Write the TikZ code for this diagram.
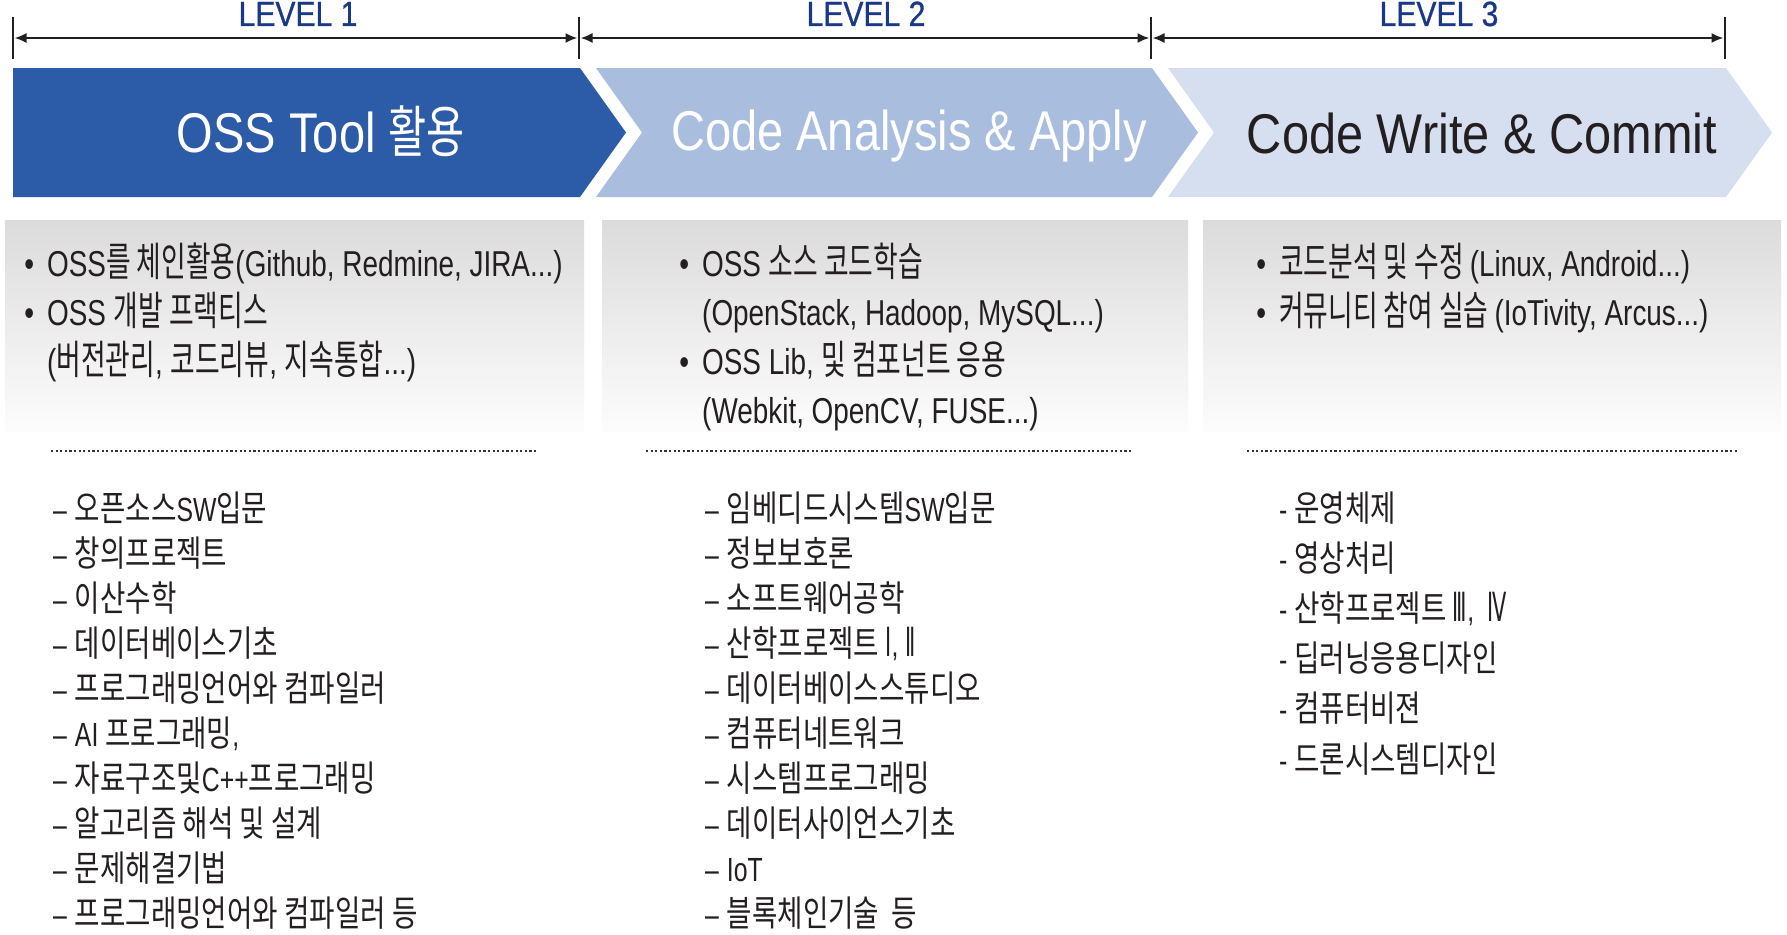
\documentclass[tikz,border=0pt]{standalone}
\usepackage{fontspec}
\usetikzlibrary{arrows.meta}
\newfontfamily\latA{Liberation Sans}[FakeStretch=0.775]
\newfontfamily\latB{Liberation Sans}[FakeStretch=0.74]
\newfontfamily\latT{Liberation Sans}[FakeStretch=0.84]
\newfontfamily\latU{Liberation Sans}[FakeStretch=0.87]
\newfontfamily\latL{Liberation Sans}[FakeStretch=0.86,FakeBold=0.8]
\newfontfamily\korA{Noto Sans CJK KR}[Scale=1.12,FakeStretch=0.665]
\newfontfamily\korB{Noto Sans CJK KR}[Scale=1.07,FakeStretch=0.77]
\newfontfamily\korT{Noto Sans CJK KR}[FakeStretch=0.74]
\newfontfamily\romA{DejaVu Sans}[Scale=1.2,FakeStretch=0.52]
\def\curlat{\latA}\def\curkor{\korA}
\newcommand\zlat{\curlat}
\newcommand\zkor{\curkor}
\newcommand\zrom{\romA}
\newXeTeXintercharclass\krcls
\newXeTeXintercharclass\rmcls
\newcount\zc
\zc="AC00
\loop\XeTeXcharclass\zc=\krcls\advance\zc by 1 \ifnum\zc<"D7A4 \repeat
\XeTeXcharclass"2160=\rmcls
\XeTeXcharclass"2161=\rmcls
\XeTeXcharclass"2162=\rmcls
\XeTeXcharclass"2163=\rmcls
\XeTeXinterchartoks 0 \krcls = {\zkor}
\XeTeXinterchartoks 4095 \krcls = {\zkor}
\XeTeXinterchartoks \rmcls \krcls = {\zkor}
\XeTeXinterchartoks \krcls 0 = {\zlat}
\XeTeXinterchartoks 4095 0 = {\zlat}
\XeTeXinterchartoks \rmcls 0 = {\zlat}
\XeTeXinterchartoks 0 \rmcls = {\zrom}
\XeTeXinterchartoks 4095 \rmcls = {\zrom}
\XeTeXinterchartoks \krcls \rmcls = {\zrom}
\newcommand\zbul{\llap{•\hspace{13pt}}}
\definecolor{cA}{RGB}{44,91,168}
\definecolor{cB}{RGB}{169,189,222}
\definecolor{cC}{RGB}{213,223,239}
\definecolor{lvl}{RGB}{26,56,136}
\definecolor{ink}{RGB}{35,31,32}
\tikzset{
  lvltxt/.style={anchor=base,inner sep=0pt,text=lvl,
    font=\def\curlat{\latL}\fontsize{35}{40}\selectfont},
  tickln/.style={draw=ink,line width=2pt},
  lvlarrow/.style={draw=ink,line width=2pt,{Latex[length=12pt,width=10pt]}-{Latex[length=12pt,width=10pt]}},
  ttl/.style={anchor=base,inner sep=0pt,
    font=\def\curlat{\latT}\def\curkor{\korT}\fontsize{56}{60}\selectfont},
  ttlw/.style={anchor=base,inner sep=0pt,
    font=\def\curlat{\latU}\def\curkor{\korT}\fontsize{56}{60}\selectfont},
  graybox/.style={top color=black!14,bottom color=black!1},
  btxt/.style={anchor=base west,inner sep=0pt,text=ink,
    font=\def\curlat{\latA}\def\curkor{\korA}\fontsize{36}{40}\selectfont},
  litem/.style={anchor=base west,inner sep=0pt,text=ink,
    font=\def\curlat{\latB}\def\curkor{\korB}\fontsize{33.5}{36}\selectfont},
  dotln/.style={draw=black!80,line width=2.4pt,dash pattern=on 2.2pt off 2.4pt},
}
\begin{document}
\begin{tikzpicture}[x=1pt,y=-1pt]
\XeTeXinterchartokenstate=1
\useasboundingbox[fill=white] (0,0) rectangle (1787,934);
% level labels and dimension arrows
\node[lvltxt] (L1) at (298,26) {LEVEL 1};
\node[lvltxt] (L2) at (866,26) {LEVEL 2};
\node[lvltxt] (L3) at (1439,26) {LEVEL 3};
\coordinate (k0) at (13,38);
\coordinate (k1) at (579,38);
\coordinate (k2) at (1151,38);
\coordinate (k3) at (1725,38);
\foreach \k in {0,...,3}{\draw[tickln] ([yshift=21pt]k\k) -- ([yshift=-21pt]k\k);}
\draw[lvlarrow] ([xshift=1.5pt]k0) -- ([xshift=-1.5pt]k1);
\draw[lvlarrow] ([xshift=1.5pt]k1) -- ([xshift=-1.5pt]k2);
\draw[lvlarrow] ([xshift=1.5pt]k2) -- ([xshift=-1.5pt]k3);
% chevrons
\fill[cA] (13,68) -- (580,68) -- (626,132.5) -- (580,197) -- (13,197) -- cycle;
\fill[cB] (596,68) -- (1152,68) -- (1198,132.5) -- (1152,197) -- (596,197) -- (642,132.5) -- cycle;
\fill[cC] (1168,68) -- (1726,68) -- (1772,132.5) -- (1726,197) -- (1168,197) -- (1214,132.5) -- cycle;
\node[ttl,text=white] (T1) at (321,152) {OSS Tool 활용};
\node[ttl,text=white] (T2) at (909,150) {Code Analysis \& Apply};
\node[ttlw,text=ink] (T3) at (1482,153) {Code Write \& Commit};
% gray boxes
\shade[graybox] (5,220) rectangle (584,431);
\shade[graybox] (602,220) rectangle (1188,431);
\shade[graybox] (1203,220) rectangle (1781,431);
% bullet texts
\node[btxt] (b11) at (47,276) {\zbul OSS를 체인활용(Github, Redmine, JIRA...)};
\node[btxt] (b12) at (47,325) {\zbul OSS 개발 프랙티스};
\node[btxt] (b13) at (47,374) {(버전관리, 코드리뷰, 지속통합...)};
\node[btxt] (b21) at (702,276) {\zbul OSS 소스 코드학습};
\node[btxt] (b22) at (702,325) {(OpenStack, Hadoop, MySQL...)};
\node[btxt] (b23) at (702,374) {\zbul OSS Lib, 및 컴포넌트 응용};
\node[btxt] (b24) at (702,423) {(Webkit, OpenCV, FUSE...)};
\node[btxt] (b31) at (1279,276) {\zbul 코드분석 및 수정 (Linux, Android...)};
\node[btxt] (b32) at (1279,325) {\zbul 커뮤니티 참여 실습 (IoTivity, Arcus...)};
% dotted separators
\draw[dotln] (51,451) -- (538,451);
\draw[dotln] (646,451) -- (1132,451);
\draw[dotln] (1247,451) -- (1738,451);
% course lists
\foreach \t [count=\i from 0] in {오픈소스SW입문, 창의프로젝트, 이산수학, 데이터베이스기초,
  프로그래밍언어와 컴파일러, {AI 프로그래밍,}, 자료구조및C++프로그래밍, 알고리즘 해석 및 설계,
  문제해결기법, 프로그래밍언어와 컴파일러 등}
  {\node[litem] (p\i) at (53,521+45*\i) {–\hspace{8pt}\t};}
\foreach \t [count=\i from 0] in {임베디드시스템SW입문, 정보보호론, 소프트웨어공학, {산학프로젝트 Ⅰ, Ⅱ},
  데이터베이스스튜디오, 컴퓨터네트워크, 시스템프로그래밍, 데이터사이언스기초, IoT, 블록체인기술\ \ 등}
  {\node[litem] (q\i) at (705,521+45*\i) {–\hspace{8pt}\t};}
\foreach \t [count=\i from 0] in {운영체제, 영상처리, {산학프로젝트 Ⅲ,\ \ Ⅳ}, 딥러닝응용디자인, 컴퓨터비젼, 드론시스템디자인}
  {\node[litem] (r\i) at (1279,521+50.2*\i) {-\ \t};}
\end{tikzpicture}
\end{document}
